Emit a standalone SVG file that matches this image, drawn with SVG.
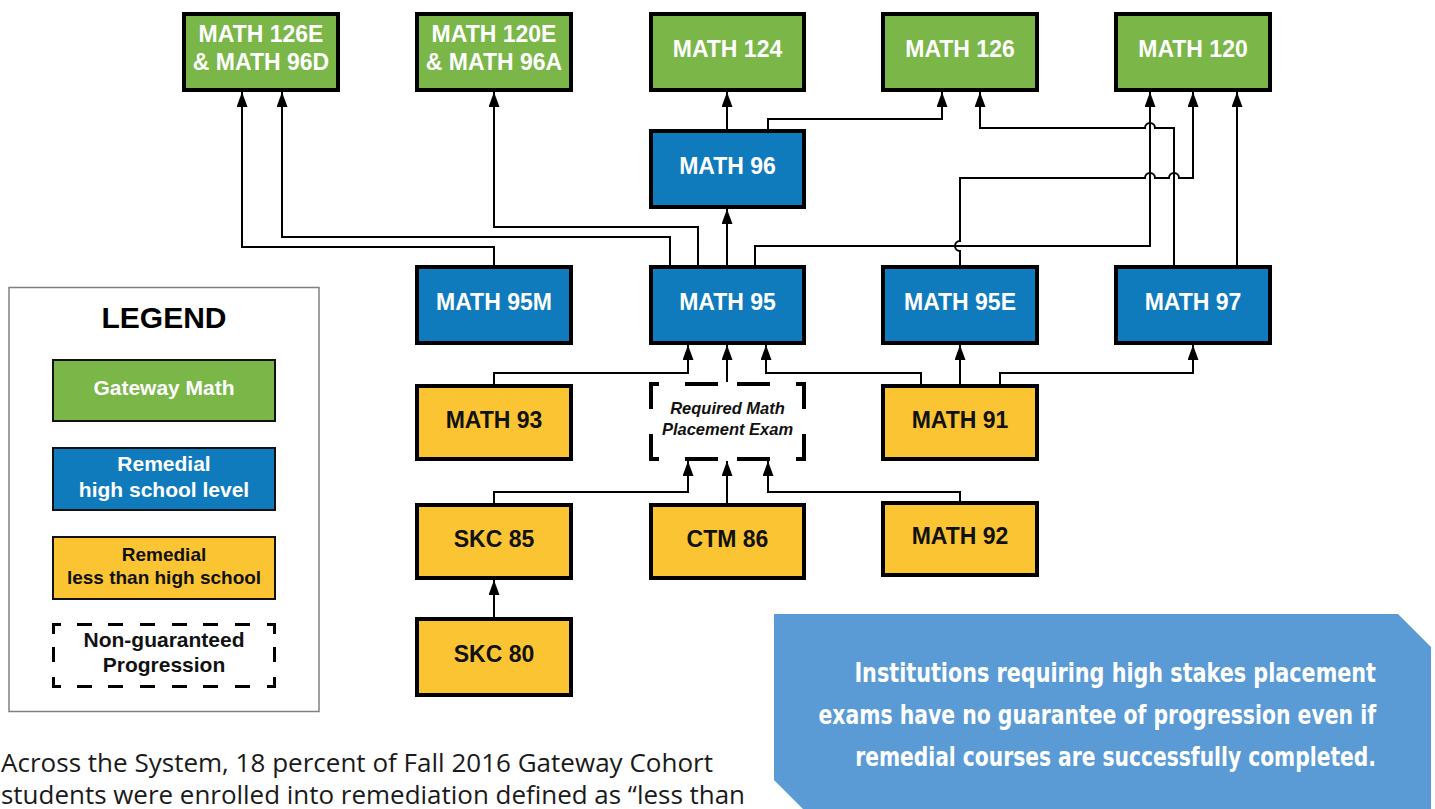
<svg xmlns="http://www.w3.org/2000/svg" width="1435" height="809" viewBox="0 0 1435 809">
<defs>
<marker id="arr" markerUnits="userSpaceOnUse" viewBox="0 0 15 11" refX="15" refY="5.5" markerWidth="15" markerHeight="11" orient="auto">
<path d="M0,0 L15,5.5 L0,11 z" fill="#000"/>
</marker>
<style>
.n rect{stroke:#000;stroke-width:4}
.g rect{fill:#7ab648}
.b rect{fill:#0f7bbd}
.y rect{fill:#fbc433}
.n text{font-family:"Liberation Sans",Arial,sans-serif;font-weight:bold;font-size:23px;text-anchor:middle}
.g text,.b text{fill:#fff}
.y text{fill:#111}
.c path{fill:none;stroke:#000;stroke-width:2}
.c path.a{marker-end:url(#arr)}
.dash{fill:none;stroke:#000;stroke-width:4}
.lg rect{stroke:#111;stroke-width:2}
.lg text{font-family:"Liberation Sans",Arial,sans-serif;font-weight:bold;font-size:21px;text-anchor:middle}
</style>
</defs>
<rect width="1435" height="809" fill="#fff"/>

<!-- connectors -->
<g id="connectors" class="c">
<path class="a" d="M494,265 V247 H242 V92"/>
<path class="a" d="M670,265 V237 H282 V92"/>
<path class="a" d="M698,265 V227 H494 V92"/>
<path class="a" d="M727,265 V209"/>
<path class="a" d="M727,129 V92"/>
<path class="a" d="M768,129 V119 H942 V92"/>
<path class="a" d="M755,265 V246 H1150 V92"/>
<path class="a" d="M960,265 V251 A5,5 0 0 1 960,241 V178 H1145 A5,5 0 0 1 1155,178 H1169 A5,5 0 0 1 1179,178 H1193 V92"/>
<path class="a" d="M1174,265 V128 H1155 A5,5 0 0 0 1145,128 H980 V92"/>
<path class="a" d="M1237,265 V92"/>
<path class="a" d="M494,384 V373 H688 V345"/>
<path class="a" d="M727,382 V345"/>
<path class="a" d="M921,384 V373 H766 V345"/>
<path class="a" d="M960,384 V345"/>
<path class="a" d="M1000,384 V373 H1193 V345"/>
<path class="a" d="M494,503 V492 H688 V461"/>
<path class="a" d="M727,503 V461"/>
<path class="a" d="M960,501 V492 H768 V461"/>
<path class="a" d="M494,617 V580"/>
</g>

<!-- top row: gateway -->
<g id="math126e" class="n g"><rect x="184" y="14" width="154" height="76"/><text x="261" y="42">MATH 126E</text><text x="261" y="70">&amp; MATH 96D</text></g>
<g id="math120e" class="n g"><rect x="417" y="14" width="154" height="76"/><text x="494" y="42">MATH 120E</text><text x="494" y="70">&amp; MATH 96A</text></g>
<g id="math124" class="n g"><rect x="651" y="14" width="153" height="76"/><text x="727.5" y="57">MATH 124</text></g>
<g id="math126" class="n g"><rect x="883" y="14" width="154" height="76"/><text x="960" y="57">MATH 126</text></g>
<g id="math120" class="n g"><rect x="1116" y="14" width="154" height="76"/><text x="1193" y="57">MATH 120</text></g>

<!-- blue -->
<g id="math96" class="n b"><rect x="651" y="131" width="153" height="76"/><text x="727.5" y="174">MATH 96</text></g>
<g id="math95m" class="n b"><rect x="417" y="267" width="154" height="76"/><text x="494" y="310">MATH 95M</text></g>
<g id="math95" class="n b"><rect x="651" y="267" width="153" height="76"/><text x="727.5" y="310">MATH 95</text></g>
<g id="math95e" class="n b"><rect x="883" y="267" width="154" height="76"/><text x="960" y="310">MATH 95E</text></g>
<g id="math97" class="n b"><rect x="1116" y="267" width="154" height="76"/><text x="1193" y="310">MATH 97</text></g>

<!-- yellow -->
<g id="math93" class="n y"><rect x="417" y="386" width="154" height="73"/><text x="494" y="428">MATH 93</text></g>
<g id="exam">
<path class="dash" d="M651,409 V384 H659 M685,384 H718 M737,384 H770 M796,384 H804 V409 M804,434 V459 H796 M770,459 H737 M718,459 H685 M659,459 H651 V434"/>
<text x="727.5" y="414" font-family="Liberation Sans, Arial, sans-serif" font-weight="bold" font-style="italic" font-size="16.5" text-anchor="middle" fill="#111">Required Math</text>
<text x="727.5" y="435" font-family="Liberation Sans, Arial, sans-serif" font-weight="bold" font-style="italic" font-size="16.5" text-anchor="middle" fill="#111">Placement Exam</text>
</g>
<g id="math91" class="n y"><rect x="883" y="386" width="154" height="73"/><text x="960" y="428">MATH 91</text></g>
<g id="skc85" class="n y"><rect x="417" y="505" width="154" height="73"/><text x="494" y="547">SKC 85</text></g>
<g id="ctm86" class="n y"><rect x="651" y="505" width="153" height="73"/><text x="727.5" y="547">CTM 86</text></g>
<g id="math92" class="n y"><rect x="883" y="503" width="154" height="72"/><text x="960" y="544">MATH 92</text></g>
<g id="skc80" class="n y"><rect x="417" y="619" width="154" height="76"/><text x="494" y="662">SKC 80</text></g>

<!-- legend -->
<g id="legend" class="lg">
<rect x="9" y="287.5" width="310" height="424" fill="#fff" style="stroke:#808080;stroke-width:1.5"/>
<text x="164" y="328" style="font-size:30px;fill:#000">LEGEND</text>
<rect x="53" y="360" width="222" height="61" fill="#7ab648"/>
<text x="164" y="395" fill="#fff">Gateway Math</text>
<rect x="53" y="448" width="222" height="62" fill="#0f7bbd"/>
<text x="164" y="471" fill="#fff">Remedial</text>
<text x="164" y="497" fill="#fff">high school level</text>
<rect x="53" y="537" width="222" height="62" fill="#fbc433"/>
<text x="164" y="561" fill="#111" style="font-size:19px">Remedial</text>
<text x="164" y="584" fill="#111" style="font-size:19px">less than high school</text>
<path d="M53.5,634 V624.5 H61 M77,624.5 H92 M108,624.5 H123 M140,624.5 H155 M172,624.5 H187 M203,624.5 H218 M235,624.5 H250 M267,624.5 H274.5 V634 M274.5,647 V662 M274.5,677 V686.5 H267 M250,686.5 H235 M218,686.5 H203 M187,686.5 H172 M155,686.5 H140 M123,686.5 H108 M92,686.5 H77 M61,686.5 H53.5 V677 M53.5,662 V647" fill="none" stroke="#000" stroke-width="3"/>
<text x="164" y="647" fill="#111">Non-guaranteed</text>
<text x="164" y="672" fill="#111">Progression</text>
</g>

<!-- callout -->
<g id="callout">
<path d="M774,614 H1398 L1431,647 V809 H803 L774,780 Z" fill="#5b9bd5"/>
<g transform="translate(1376,0) scale(0.8,1)" font-family="Liberation Sans Narrow, DejaVu Sans Condensed, Roboto, sans-serif" font-weight="bold" font-size="27" fill="#fff" text-anchor="end" font-stretch="condensed">
<text x="0" y="682" textLength="652" lengthAdjust="spacingAndGlyphs">Institutions requiring high stakes placement</text>
<text x="0" y="724" textLength="697" lengthAdjust="spacingAndGlyphs">exams have no guarantee of progression even if</text>
<text x="0" y="766" textLength="651" lengthAdjust="spacingAndGlyphs">remedial courses are successfully completed.</text>
</g>
</g>

<!-- body text -->
<g id="bodytext" font-family="Open Sans, Noto Sans, sans-serif" font-size="25" fill="#1a1a1a">
<text x="1" y="772" textLength="712" lengthAdjust="spacingAndGlyphs">Across the System, 18 percent of Fall 2016 Gateway Cohort</text>
<text x="1" y="804" textLength="744" lengthAdjust="spacingAndGlyphs">students were enrolled into remediation defined as “less than</text>
</g>
</svg>
